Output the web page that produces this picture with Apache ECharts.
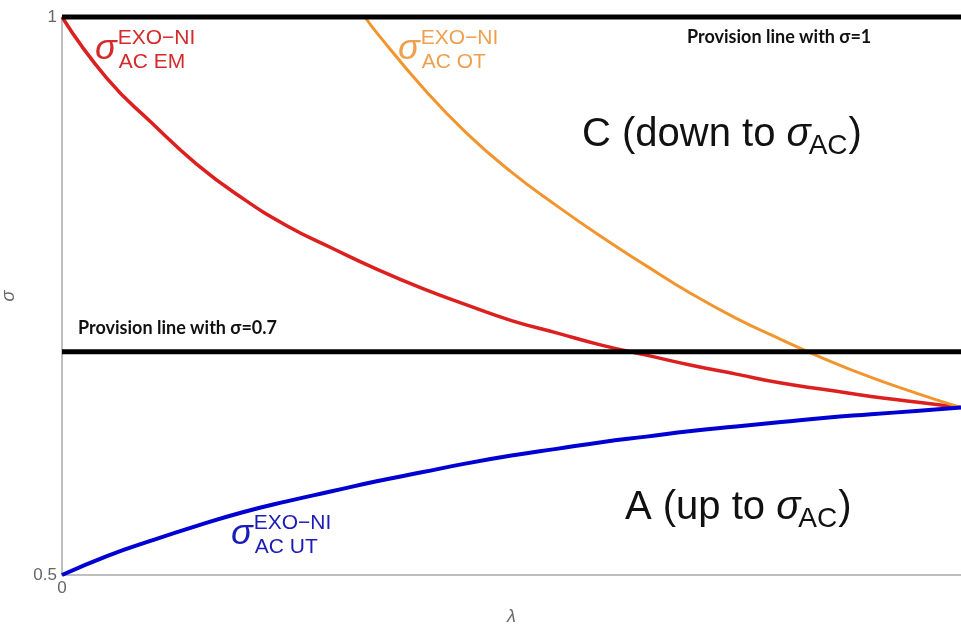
<!DOCTYPE html>
<html>
<head>
<meta charset="utf-8">
<script src="https://cdn.jsdelivr.net/npm/echarts@6/dist/echarts.min.js"></script>
<style>
html,body{margin:0;padding:0;background:#fff;}
#chart{width:961px;height:628px;}
</style>
</head>
<body>
<div id="chart"></div>
<script>
// ---- data ----
const lambda = [0,0.05,0.1,0.15,0.2,0.25,0.3,0.35,0.4,0.45,0.5,0.55,0.6,0.65,0.7,0.75,0.8,0.85,0.9,0.95,1];
const sigmaEM = [1.000,0.945,0.905,0.868,0.838,0.813,0.793,0.774,0.757,0.742,0.728,0.717,0.706,0.697,0.688,0.680,0.672,0.666,0.660,0.655,0.650];
const sigmaUT = [0.500,0.517,0.531,0.544,0.556,0.566,0.575,0.584,0.592,0.600,0.607,0.613,0.619,0.624,0.629,0.633,0.637,0.641,0.644,0.647,0.650];
const lambdaOT = [0.337,0.35,0.4,0.45,0.5,0.55,0.6,0.65,0.7,0.75,0.8,0.85,0.9,0.95,1.0];
const sigmaOT = [1.000,0.986,0.938,0.896,0.861,0.831,0.803,0.777,0.752,0.730,0.711,0.693,0.677,0.663,0.650];
const provisionLevels = [1, 0.7];
const provisionTexts = ['Provision line with σ=1', 'Provision line with σ=0.7'];
const yTickLabels = ['0.5', '1'];
const xTickLabels = ['0'];
const lambdaRange = [0, 1];
const sigmaRange = [0.5, 1];

// ---- helpers ----
const FONT = 'Liberation Sans';
const mctx = document.createElement('canvas').getContext('2d');
function measure(t, size, italic, weight, family) {
  mctx.font = (italic ? 'italic ' : '') + (weight || 'normal') + ' ' + size + 'px "' + (family || FONT) + '"';
  return mctx.measureText(t).width;
}
function runs(x, baseline, parts) {
  const els = [];
  let cx = x;
  parts.forEach(p => {
    const size = p.size;
    const y = baseline + (p.dy || 0) - 0.35 * size;
    els.push({
      type: 'text', x: p.x !== undefined ? p.x : cx, y: y, silent: true, z: 10,
      style: {
        text: p.t, fill: p.color, font: (p.italic ? 'italic ' : '') + (p.weight || 'normal') + ' ' + size + 'px "' + (p.family || FONT) + '"',
        align: 'left', verticalAlign: 'middle'
      }
    });
    if (p.x === undefined) cx += measure(p.t, size, p.italic, p.weight, p.family) + (p.gap || 0);
  });
  return els;
}
function sigmaLabel(x, baseline, sup, sub, color) {
  const sw = measure('σ', 36, true) + 1;
  return runs(x, baseline, [
    {t: 'σ', size: 36, italic: true, color: color},
    {t: sup, size: 21, color: color, dy: -16, x: x + sw},
    {t: sub, size: 21, color: color, dy: 8, x: x + sw + 1}
  ]);
}
function regionLabel(x, baseline, main) {
  const w1 = measure(main, 40, false);
  const w2 = measure('σ', 40, true);
  const w3 = measure('AC', 28, false);
  return runs(x, baseline, [
    {t: main, size: 40, color: '#111', x: x},
    {t: 'σ', size: 40, italic: true, color: '#111', x: x + w1},
    {t: 'AC', size: 28, color: '#111', dy: 7, x: x + w1 + w2 - 2},
    {t: ')', size: 40, color: '#111', x: x + w1 + w2 + w3 - 1}
  ]);
}

const chart = echarts.init(document.getElementById('chart'), null, {renderer: 'canvas'});

const provisionSeries = provisionLevels.map(v => ({
  type: 'line', data: lambdaRange.map(l => [l, v]), symbol: 'none', clip: false, z: 5,
  lineStyle: {color: '#000', width: 5}, silent: true
}));

let graphics = [];
graphics = graphics.concat(sigmaLabel(95, 62, 'EXO−NI', 'AC EM', '#d42a2b'));
graphics = graphics.concat(sigmaLabel(398, 62, 'EXO−NI', 'AC OT', '#eea04f'));
graphics = graphics.concat(sigmaLabel(231, 547, 'EXO−NI', 'AC UT', '#1b1bb8'));
graphics = graphics.concat(regionLabel(582, 149, 'C (down to '));
graphics = graphics.concat(regionLabel(625, 522, 'A (up to '));
graphics = graphics.concat(runs(687, 43, [{t: provisionTexts[0], size: 18, weight: 'bold', family: 'Lato', color: '#111'}]));
graphics = graphics.concat(runs(78, 334, [{t: provisionTexts[1], size: 18, weight: 'bold', family: 'Lato', color: '#111'}]));

const curveCommon = {type: 'line', symbol: 'none', smooth: 0.5, clip: false};

chart.setOption({
  animation: false,
  backgroundColor: '#fff',
  grid: {left: 62, right: 0, top: 17, bottom: 53, containLabel: false, outerBoundsMode: 'none'},
  xAxis: {
    type: 'value', min: lambdaRange[0], max: lambdaRange[1], interval: 1,
    name: 'λ', nameLocation: 'middle', nameGap: 33,
    nameTextStyle: {fontFamily: FONT, fontStyle: 'italic', fontSize: 18, color: '#666'},
    axisLine: {show: true, onZero: false, lineStyle: {color: '#aaa', width: 1.5}},
    axisTick: {show: false}, splitLine: {show: false},
    axisLabel: {
      margin: 5, fontFamily: FONT, fontSize: 17, color: '#666',
      formatter: v => xTickLabels.indexOf(String(v)) >= 0 ? String(v) : ''
    }
  },
  yAxis: {
    type: 'value', min: sigmaRange[0], max: sigmaRange[1], interval: 0.5,
    name: 'σ', nameLocation: 'middle', nameGap: 44, nameRotate: 90,
    nameTextStyle: {fontFamily: FONT, fontStyle: 'italic', fontSize: 18, color: '#666'},
    axisLine: {show: true, onZero: false, lineStyle: {color: '#aaa', width: 1.5}},
    axisTick: {show: false}, splitLine: {show: false},
    axisLabel: {
      margin: 5, fontFamily: FONT, fontSize: 17, color: '#666',
      formatter: v => { const s = String(v); return yTickLabels.indexOf(s) >= 0 ? s : ''; }
    }
  },
  series: [
    Object.assign({}, curveCommon, {name: 'EM', data: lambda.map((l, i) => [l, sigmaEM[i]]), lineStyle: {color: '#dc1f1f', width: 3.5}}),
    Object.assign({}, curveCommon, {name: 'OT', data: lambdaOT.map((l, i) => [l, sigmaOT[i]]), lineStyle: {color: '#f2952f', width: 3}}),
    Object.assign({}, curveCommon, {name: 'UT', data: lambda.map((l, i) => [l, sigmaUT[i]]), lineStyle: {color: '#0000d2', width: 4}})
  ].concat(provisionSeries),
  graphic: graphics
});
</script>
</body>
</html>
